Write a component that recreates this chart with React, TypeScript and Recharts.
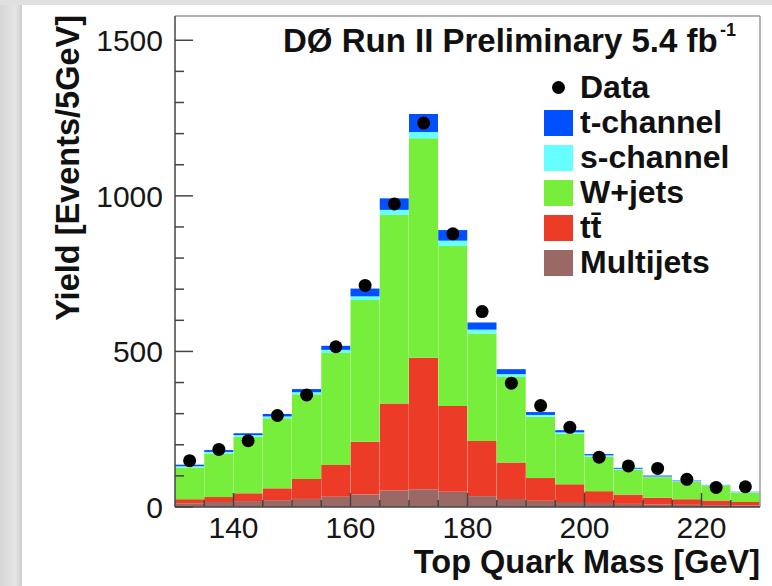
import React from 'react';
import { ComposedChart, Bar, Line, XAxis, YAxis, ReferenceLine, Legend } from 'recharts';

// Bin lower edges (GeV), 5 GeV bins
const binLow = [130, 135, 140, 145, 150, 155, 160, 165, 170, 175, 180, 185, 190, 195, 200, 205, 210, 215, 220, 225];
// Stacked components (events per bin)
const multijets = [12, 16, 19, 22, 26, 33, 40, 53, 57, 49, 35, 26, 20, 16, 13, 10, 8, 7, 6, 5];
const ttbar = [13, 16, 25, 38, 64, 102, 170, 280, 423, 276, 177, 117, 73, 57, 38, 30, 22, 18, 15, 11];
const wjets = [102, 140, 182, 225, 272, 360, 455, 606, 705, 514, 346, 275, 197, 162, 111, 80, 66, 56, 47, 30];
const schannel = [4, 5, 5, 6, 7, 10, 12, 16, 20, 17, 12, 9, 6, 5, 4, 3, 2, 2, 2, 2];
const tchannel = [5, 6, 6, 8, 10, 13, 25, 37, 58, 34, 23, 16, 9, 7, 4, 3, 3, 2, 1, 1];
const dataYield = [149, 185, 213, 294, 360, 515, 712, 974, 1234, 878, 628, 398, 326, 256, 160, 132, 124, 89, 63, 65];

const yTicks = [0, 100, 200, 300, 400, 500, 600, 700, 800, 900, 1000, 1100, 1200, 1300, 1400, 1500];
const xTicks = [135, 140, 145, 150, 155, 160, 165, 170, 175, 180, 185, 190, 195, 200, 205, 210, 215, 220, 225];

const legendItems = [
  { key: 'data', label: 'Data', color: '#000000', type: 'dot' },
  { key: 't', label: 't-channel', color: '#0050ff', type: 'box' },
  { key: 's', label: 's-channel', color: '#66ffff', type: 'box' },
  { key: 'w', label: 'W+jets', color: '#78ee3c', type: 'box' },
  { key: 'tt', label: 'tt\u0304', color: '#ec3b26', type: 'box' },
  { key: 'mj', label: 'Multijets', color: '#9a6966', type: 'box' },
];

const rows = binLow.map((lo, i) => ({
  bin: String(lo),
  lo,
  mj: multijets[i],
  tt: ttbar[i],
  w: wjets[i],
  s: schannel[i],
  t: tchannel[i],
  data: dataYield[i],
}));

const FONT = '"Liberation Sans", Arial, Helvetica, sans-serif';

const YTick = (props: any) => {
  const { x, y, payload } = props;
  const v = payload.value;
  const major = v % 500 === 0;
  return (
    <g>
      <line x1={x} x2={x + (major ? 18 : 9)} y1={y} y2={y} stroke="#444" strokeWidth={1.5} />
      {major && (
        <text x={x - 12} y={y + 11} textAnchor="end" fontSize={30} fill="#161616" fontFamily={FONT}>
          {v}
        </text>
      )}
    </g>
  );
};

const XTick = (props: any) => {
  const { x, y, payload } = props;
  const v = payload.value;
  const major = v % 20 === 0;
  return (
    <g>
      <line x1={x} x2={x} y1={y} y2={y - (major ? 14 : 7)} stroke="#444" strokeWidth={1.5} />
      {major && (
        <text x={x} y={y + 31} textAnchor="middle" fontSize={30} fill="#161616" fontFamily={FONT}>
          {v}
        </text>
      )}
    </g>
  );
};

const LegendBox = () => (
  <div style={{ fontFamily: FONT, fontWeight: 'bold', fontSize: 32, color: '#111' }}>
    {legendItems.map((it) => (
      <div key={it.key} style={{ display: 'flex', alignItems: 'center', height: 35, whiteSpace: 'nowrap' }}>
        <div style={{ width: 29, height: 35, display: 'flex', alignItems: 'center', justifyContent: 'center', marginRight: 7 }}>
          {it.type === 'dot' ? (
            <div style={{ width: 13, height: 13, borderRadius: '50%', background: it.color }} />
          ) : (
            <div style={{ width: 29, height: 26, background: it.color }} />
          )}
        </div>
        <span style={{ lineHeight: '35px' }}>{it.label}</span>
      </div>
    ))}
  </div>
);

export default function App() {
  return (
    <div style={{ position: 'absolute', left: 0, top: 0, width: 772, height: 586, background: '#ffffff', overflow: 'hidden' }}>
      <div style={{ position: 'absolute', left: 0, top: 0, width: 22, height: 586, background: 'linear-gradient(to right, #d6d6d6, #e6e6e6 70%, #cdcdcd)' }} />
      <div style={{ position: 'absolute', left: 0, top: 0, width: 772, height: 5, background: '#e0e0e0' }} />
      <div style={{ position: 'absolute', left: 0, top: 0 }}>
        <ComposedChart
          width={772}
          height={586}
          data={rows}
          margin={{ top: 16, right: 12, bottom: 0, left: 0 }}
          barCategoryGap={0}
          barGap={0}
        >
          <XAxis dataKey="bin" hide height={0} />
          <XAxis
            xAxisId="num"
            type="number"
            dataKey="lo"
            domain={[130, 230]}
            allowDataOverflow
            ticks={xTicks}
            interval={0}
            tick={<XTick />}
            tickLine={false}
            tickSize={0}
            tickMargin={0}
            height={79}
            axisLine={{ stroke: '#444', strokeWidth: 1.5 }}
          />
          <YAxis
            type="number"
            domain={[0, 1578]}
            allowDataOverflow
            ticks={yTicks}
            interval={0}
            tick={<YTick />}
            tickLine={false}
            tickSize={0}
            tickMargin={0}
            width={175}
            axisLine={{ stroke: '#444', strokeWidth: 1.5 }}
          />
          <Bar dataKey="mj" stackId="a" fill="#9a6966" isAnimationActive={false} />
          <Bar dataKey="tt" stackId="a" fill="#ec3b26" isAnimationActive={false} />
          <Bar dataKey="w" stackId="a" fill="#78ee3c" isAnimationActive={false} />
          <Bar dataKey="s" stackId="a" fill="#66ffff" isAnimationActive={false} />
          <Bar dataKey="t" stackId="a" fill="#0050ff" isAnimationActive={false} />
          <Line
            dataKey="data"
            stroke="transparent"
            strokeWidth={0}
            dot={{ r: 6.5, fill: '#000', stroke: 'none' }}
            activeDot={false}
            isAnimationActive={false}
          />
          <ReferenceLine y={1578} xAxisId="num" stroke="#9a9a9a" strokeWidth={1.5} />
          <ReferenceLine x={230} xAxisId="num" stroke="#9a9a9a" strokeWidth={1.5} />
          <Legend
            layout="horizontal"
            verticalAlign="middle"
            align="center"
            content={<LegendBox />}
            wrapperStyle={{ position: 'absolute', left: 544, top: 70, width: 'auto', height: 'auto' }}
          />
        </ComposedChart>
      </div>
      <svg width={772} height={586} style={{ position: 'absolute', left: 0, top: 0, pointerEvents: 'none' }}>
        <text x={283} y={52} fontFamily={FONT} fontWeight="bold" fontSize={33} fill="#111">
          DØ Run II Preliminary 5.4 fb
        </text>
        <text x={720} y={36} fontFamily={FONT} fontWeight="bold" fontSize={18} fill="#111">
          -1
        </text>
        <text x={760} y={573} textAnchor="end" fontFamily={FONT} fontWeight="bold" fontSize={32.5} fill="#111">
          Top Quark Mass [GeV]
        </text>
        <text
          x={79}
          y={15}
          textAnchor="end"
          transform="rotate(-90 79 15)"
          fontFamily={FONT}
          fontWeight="bold"
          fontSize={32.5}
          fill="#111"
        >
          Yield [Events/5GeV]
        </text>
      </svg>
    </div>
  );
}
